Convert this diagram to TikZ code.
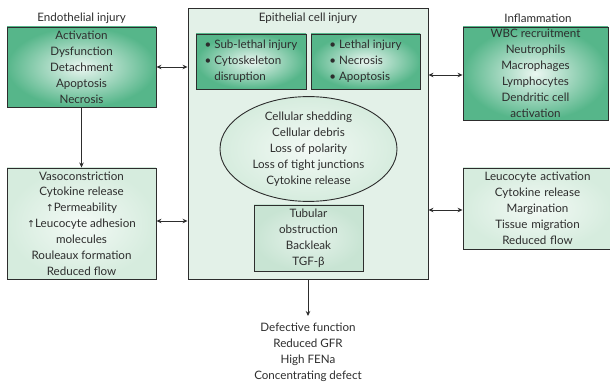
\documentclass[tikz,border=0pt]{standalone}
\usepackage{fontspec}
\setmainfont{Lato}
\newfontfamily\symf{DejaVu Sans}
\usetikzlibrary{arrows.meta,shapes.geometric}
\definecolor{dgreen}{RGB}{86,182,138}
\definecolor{lgreen}{RGB}{214,236,222}
\definecolor{mainfill}{RGB}{227,241,232}
\definecolor{tubfill}{RGB}{200,228,211}
\definecolor{ink}{RGB}{45,45,45}
\tikzset{
  boxline/.style={draw=ink, line width=0.9pt},
  darkbox/.style={boxline, inner color=white!88!dgreen, outer color=dgreen, align=center, inner sep=0pt, text=ink},
  lightbox/.style={boxline, inner color=white!70!lgreen, outer color=lgreen, align=center, inner sep=0pt, text=ink},
  plaintext/.style={align=center, inner sep=0pt, text=ink},
  conn/.style={draw=ink, line width=0.9pt},
  tip/.tip={Stealth[length=5pt,width=4.5pt]},
}
\begin{document}
\begin{tikzpicture}[x=1pt,y=-1pt, font=\fontsize{11.6}{15.9}\selectfont]
\useasboundingbox (0,0) rectangle (610,382);
% main box
\node[boxline, fill=mainfill, minimum width=240pt, minimum height=271pt, inner sep=0pt] (main) at (308,143.5) {};
\node[plaintext] (maint) at (308,18) {Epithelial cell injury};
\node[darkbox, minimum width=110pt, minimum height=55pt] (sub) at (251,61.5)
  {\begin{tabular}{@{}l@{}}• Sub-lethal injury\\• Cytoskeleton\\\phantom{•} disruption\end{tabular}};
\node[darkbox, minimum width=109pt, minimum height=55pt] (leth) at (365.5,61.5)
  {\begin{tabular}{@{}l@{}}• Lethal injury\\• Necrosis\\• Apoptosis\end{tabular}};
\node[ellipse, lightbox, minimum width=177pt, minimum height=97pt] (ell) at (308.5,149)
  {Cellular shedding\\Cellular debris\\Loss of polarity\\Loss of tight junctions\\Cytokine release};
\node[boxline, inner color=white!55!tubfill, outer color=tubfill, align=center, inner sep=0pt, text=ink, minimum width=109pt, minimum height=66pt] (tub) at (308.5,238)
  {Tubular\\obstruction\\Backleak\\TGF-β};
% left
\node[plaintext] (endot) at (81.5,18) {Endothelial injury};
\node[darkbox, minimum width=149pt, minimum height=80pt] (endo) at (81.5,67)
  {Activation\\Dysfunction\\Detachment\\Apoptosis\\Necrosis};
\node[lightbox, minimum width=149pt, minimum height=111pt] (vaso) at (81.5,223.5)
  {Vasoconstriction\\Cytokine release\\{\symf\fontsize{9.5}{10}\selectfont ↑}Permeability\\{\symf\fontsize{9.5}{10}\selectfont ↑}Leucocyte adhesion\\molecules\\Rouleaux formation\\Reduced flow};
% right
\node[plaintext] (inflt) at (538,18) {Inflammation};
\node[darkbox, minimum width=145pt, minimum height=93pt] (infl) at (535.5,73.5)
  {WBC recruitment\\Neutrophils\\Macrophages\\Lymphocytes\\Dendritic cell\\activation};
\node[lightbox, minimum width=149pt, minimum height=81pt, text width=149pt] (leuc) at (537.5,208.5)
  {\centering Leucocyte activation\\Cytokine release\\Margination\\Tissue migration\\Reduced flow};
% bottom
\node[plaintext] (out) at (308,352)
  {Defective function\\Reduced GFR\\High FENa\\Concentrating defect};
\coordinate (outtop) at (308,316);
% connectors
\draw[conn, -tip] (endo.south) -- (vaso.north);
\draw[conn, tip-tip] (endo.east) -- (endo.east -| main.west);
\draw[conn, tip-tip] ([yshift=2.5pt]vaso.east) -- ([yshift=2.5pt]vaso.east -| main.west);
\draw[conn, tip-tip] ([yshift=-1.5pt]infl.west) -- ([yshift=-1.5pt]infl.west -| main.east);
\draw[conn, tip-tip] ([yshift=-1.5pt]leuc.west) -- ([yshift=-1.5pt]leuc.west -| main.east);
\draw[conn, -tip] (main.south) -- (outtop);
\end{tikzpicture}
\end{document}
